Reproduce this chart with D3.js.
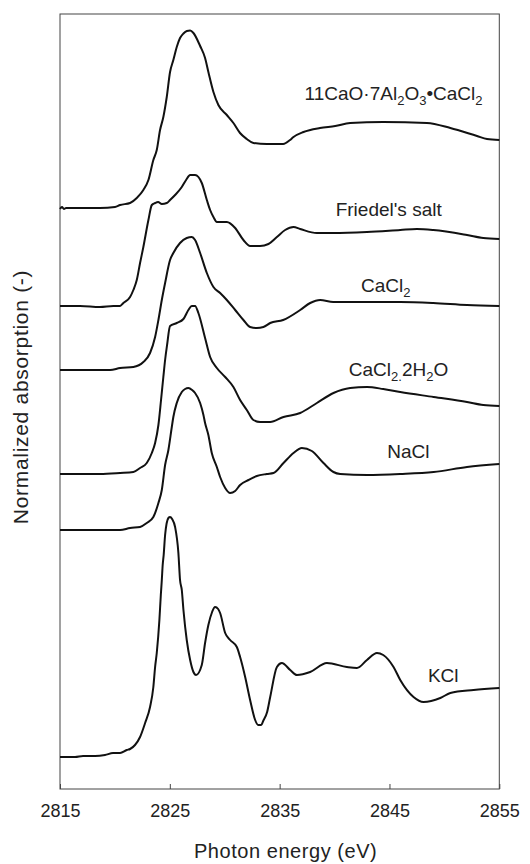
<!DOCTYPE html>
<html>
<head>
<meta charset="utf-8">
<script src="https://cdn.jsdelivr.net/npm/d3@7"></script>
<style>
  html, body { margin: 0; padding: 0; background: #fff; }
  svg { display: block; }
  text { font-family: "Liberation Sans", Arial, Helvetica, sans-serif; fill: #222; }
</style>
</head>
<body>
<svg id="chart" width="530" height="864"></svg>
<script>
// ---------------- DATA (photon energy eV, normalized absorption with vertical offset) ----------------
const seriesNames = ["11CaO·7Al2O3·CaCl2", "Friedel's salt", "CaCl2", "CaCl2·2H2O", "NaCl", "KCl"];

const mayenite = [[2815.00,5.80],[2815.18,5.82],[2815.36,5.80],[2815.55,5.81],[2816.82,5.81],[2818.64,5.81],[2820.01,5.82],[2820.47,5.84],[2821.38,5.86],[2821.99,5.91],[2822.59,5.99],[2823.05,6.09],[2823.50,6.29],[2823.81,6.39],[2824.11,6.59],[2824.41,6.72],[2824.72,6.92],[2825.02,7.17],[2825.32,7.29],[2825.63,7.42],[2825.93,7.51],[2826.24,7.555],[2826.55,7.58],[2826.85,7.585],[2827.15,7.56],[2827.76,7.43],[2828.21,7.31],[2828.51,7.17],[2828.97,6.97],[2829.42,6.84],[2830.19,6.74],[2830.79,6.66],[2831.39,6.56],[2832.01,6.50],[2832.61,6.46],[2833.83,6.45],[2835.32,6.45],[2835.95,6.49],[2836.26,6.52],[2837.17,6.57],[2838.67,6.61],[2840.06,6.63],[2841.42,6.66],[2844.43,6.67],[2848.41,6.66],[2850.54,6.61],[2852.97,6.53],[2853.88,6.50],[2855.00,6.49]];

const friedel = [[2815.00,4.83],[2816.82,4.83],[2818.64,4.82],[2819.86,4.83],[2820.47,4.83],[2820.77,4.86],[2821.38,4.92],[2821.68,4.99],[2821.99,5.09],[2822.29,5.26],[2822.59,5.42],[2823.05,5.69],[2823.36,5.84],[2823.66,5.86],[2823.93,5.87],[2824.27,5.85],[2824.72,5.86],[2825.02,5.89],[2825.48,5.94],[2826.09,6.02],[2826.48,6.09],[2826.85,6.14],[2827.30,6.14],[2827.91,6.06],[2828.37,5.89],[2828.67,5.79],[2828.97,5.72],[2829.28,5.67],[2830.19,5.67],[2830.95,5.61],[2831.70,5.49],[2832.31,5.43],[2833.22,5.43],[2833.98,5.45],[2834.75,5.52],[2835.50,5.59],[2836.26,5.62],[2836.87,5.60],[2838.39,5.56],[2839.88,5.56],[2842.95,5.57],[2845.98,5.59],[2847.50,5.60],[2848.99,5.59],[2852.06,5.54],[2853.54,5.51],[2855.00,5.50]];

const cacl2 = [[2815.00,4.19],[2817.28,4.19],[2819.56,4.19],[2820.47,4.21],[2821.68,4.22],[2822.59,4.27],[2823.20,4.36],[2823.66,4.52],[2823.96,4.69],[2824.27,4.89],[2824.57,5.06],[2825.02,5.29],[2825.32,5.36],[2825.93,5.46],[2826.54,5.51],[2827.00,5.52],[2827.30,5.49],[2827.76,5.36],[2828.37,5.16],[2828.97,5.02],[2829.58,4.96],[2830.19,4.89],[2830.95,4.79],[2831.70,4.69],[2832.31,4.62],[2832.92,4.61],[2833.52,4.62],[2834.14,4.66],[2835.32,4.69],[2836.87,4.79],[2837.78,4.86],[2838.69,4.89],[2839.88,4.87],[2842.95,4.87],[2845.98,4.87],[2848.99,4.86],[2852.06,4.84],[2855.00,4.83]];

const cacl2hyd = [[2815.00,3.15],[2818.64,3.15],[2820.47,3.16],[2821.68,3.17],[2822.29,3.21],[2822.90,3.26],[2823.36,3.36],[2823.66,3.46],[2823.96,3.64],[2824.20,3.89],[2824.41,4.12],[2824.57,4.29],[2824.75,4.44],[2825.02,4.63],[2825.63,4.66],[2826.24,4.70],[2826.69,4.79],[2827.00,4.83],[2827.30,4.83],[2827.60,4.76],[2828.21,4.51],[2828.67,4.32],[2829.28,4.21],[2830.04,4.12],[2830.79,4.02],[2831.40,3.89],[2832.01,3.79],[2832.61,3.69],[2833.22,3.67],[2834.14,3.67],[2835.35,3.72],[2836.87,3.76],[2838.39,3.86],[2839.90,3.96],[2841.42,4.01],[2842.95,4.02],[2844.43,4.00],[2845.98,3.97],[2849.02,3.92],[2852.06,3.87],[2853.54,3.84],[2855.00,3.83]];

const nacl = [[2815.00,2.59],[2818.64,2.59],[2820.47,2.59],[2821.38,2.61],[2822.29,2.62],[2822.90,2.66],[2823.50,2.72],[2823.96,2.86],[2824.27,2.99],[2824.57,3.24],[2824.87,3.39],[2825.18,3.62],[2825.32,3.72],[2825.63,3.86],[2826.09,3.97],[2826.39,4.00],[2826.69,4.01],[2827.03,3.99],[2827.30,3.96],[2827.76,3.86],[2828.06,3.74],[2828.21,3.66],[2828.51,3.54],[2828.82,3.36],[2829.28,3.22],[2829.58,3.12],[2830.04,3.01],[2830.49,2.96],[2830.95,2.98],[2831.40,3.04],[2832.16,3.09],[2832.92,3.13],[2833.83,3.15],[2834.44,3.16],[2835.35,3.26],[2836.26,3.36],[2837.02,3.41],[2837.93,3.38],[2838.99,3.26],[2839.90,3.17],[2840.51,3.15],[2842.95,3.14],[2845.98,3.15],[2849.02,3.17],[2852.06,3.22],[2855.00,3.25]];

const kcl = [[2815.00,0.32],[2816.37,0.32],[2817.10,0.33],[2818.19,0.33],[2819.10,0.34],[2819.83,0.36],[2820.47,0.36],[2821.08,0.39],[2821.38,0.40],[2821.83,0.44],[2822.29,0.52],[2822.75,0.66],[2823.20,0.82],[2823.50,1.02],[2823.66,1.22],[2823.81,1.36],[2824.05,1.69],[2824.18,1.94],[2824.27,2.09],[2824.35,2.24],[2824.44,2.34],[2824.57,2.54],[2824.87,2.71],[2825.02,2.72],[2825.21,2.70],[2825.48,2.62],[2825.78,2.36],[2825.93,2.09],[2826.09,1.99],[2826.24,1.79],[2826.54,1.49],[2826.85,1.29],[2827.15,1.17],[2827.39,1.14],[2827.91,1.24],[2828.21,1.46],[2828.51,1.64],[2828.85,1.77],[2829.12,1.82],[2829.40,1.80],[2829.58,1.76],[2830.04,1.56],[2830.49,1.49],[2831.10,1.42],[2831.40,1.32],[2831.86,1.12],[2832.31,0.89],[2832.77,0.69],[2833.04,0.64],[2833.32,0.64],[2833.50,0.68],[2833.86,0.77],[2834.14,0.92],[2834.75,1.22],[2835.20,1.26],[2835.96,1.19],[2836.57,1.14],[2837.78,1.17],[2839.30,1.26],[2841.12,1.22],[2842.04,1.21],[2842.95,1.29],[2843.86,1.36],[2844.43,1.34],[2845.37,1.22],[2845.98,1.09],[2847.19,0.92],[2848.10,0.87],[2849.63,0.91],[2850.54,0.96],[2852.66,0.99],[2855.00,1.01]];

const xTicks = [2815, 2825, 2835, 2845, 2855];
const xTitle = "Photon energy (eV)";
const yTitle = "Normalized absorption (-)";

// ---------------- DRAWING ----------------
const allSeries = [mayenite, friedel, cacl2, cacl2hyd, nacl, kcl];
const svg = d3.select("#chart");
const plot = { left: 60, right: 499.3, top: 14, bottom: 789 };

const x = d3.scaleLinear().domain([2815, 2855]).range([plot.left, plot.right]);
const y = d3.scaleLinear().domain([0, 7.75]).range([plot.bottom, plot.top]);

// frame
svg.append("rect")
  .attr("x", plot.left).attr("y", plot.top)
  .attr("width", plot.right - plot.left).attr("height", plot.bottom - plot.top)
  .attr("fill", "none").attr("stroke", "#444").attr("stroke-width", 1);

// x axis with inward ticks
const xAxis = d3.axisBottom(x).tickValues(xTicks).tickFormat(d3.format("d"))
  .tickSizeInner(-5).tickSizeOuter(0).tickPadding(15);
const gx = svg.append("g").attr("transform", `translate(0,${plot.bottom})`).call(xAxis);
gx.select(".domain").remove();
gx.selectAll(".tick line").attr("stroke", "#444");
gx.selectAll(".tick text").attr("font-size", 18).attr("fill", "#222")
  .attr("font-family", '"Liberation Sans", Arial, sans-serif');

// curves
const line = d3.line().x(d => x(d[0])).y(d => y(d[1])).curve(d3.curveMonotoneX);
svg.append("g").selectAll("path").data(allSeries).join("path")
  .attr("d", line)
  .attr("fill", "none").attr("stroke", "#111").attr("stroke-width", 2)
  .attr("stroke-linejoin", "round");

// axis titles
svg.append("text").attr("x", (plot.left + plot.right) / 2 + 6).attr("y", 858)
  .attr("text-anchor", "middle").attr("font-size", 20).attr("letter-spacing", 0.55).text(xTitle);
svg.append("text")
  .attr("transform", `translate(28,${397}) rotate(-90)`)
  .attr("text-anchor", "middle").attr("font-size", 21).attr("letter-spacing", 0.7).text(yTitle);

// curve labels (segments: [text, isSubscript])
const labelDefs = [
  { e: 2837.27, v: 6.89, parts: [["11CaO·7Al",0],["2",1],["O",0],["3",1],["•CaCl",0],["2",1]] },
  { e: 2840.10, v: 5.73, parts: [["Friedel's salt",0]] },
  { e: 2842.40, v: 4.97, parts: [["CaCl",0],["2",1]] },
  { e: 2841.30, v: 4.13, parts: [["CaCl",0],["2.",1],["2H",0],["2",1],["O",0]] },
  { e: 2844.80, v: 3.31, parts: [["NaCl",0]] },
  { e: 2848.50, v: 1.07, parts: [["KCl",0]] }
];
labelDefs.forEach(l => {
  const t = svg.append("text").attr("x", x(l.e)).attr("y", y(l.v)).attr("font-size", 19);
  let shifted = false;
  l.parts.forEach(([s, sub]) => {
    const ts = t.append("tspan").text(s);
    if (sub && !shifted) { ts.attr("dy", 5).attr("font-size", 13); shifted = true; }
    else if (sub) { ts.attr("font-size", 13); }
    else if (!sub && shifted) { ts.attr("dy", -5); shifted = false; }
  });
});
</script>
</body>
</html>
